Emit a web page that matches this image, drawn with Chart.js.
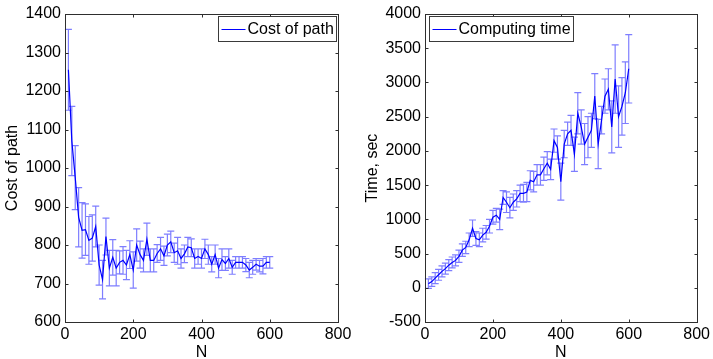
<!DOCTYPE html>
<html>
<head>
<meta charset="utf-8">
<script src="https://cdn.jsdelivr.net/npm/chart.js@4"></script>
<style>
  body { margin: 0; background: #fff; }
  #wrap { position: relative; width: 713px; height: 359px; }
  canvas { position: absolute; top: 0; }
</style>
</head>
<body>
<div id="wrap">
  <canvas id="costChart" width="360" height="359" style="left:0"></canvas>
  <canvas id="timeChart" width="353" height="359" style="left:360px"></canvas>
</div>
<script>
const nValues = [10, 20, 30, 40, 50, 60, 70, 80, 90, 100,
  110, 120, 130, 140, 150, 160, 170, 180, 190, 200,
  210, 220, 230, 240, 250, 260, 270, 280, 290, 300,
  310, 320, 330, 340, 350, 360, 370, 380, 390, 400,
  410, 420, 430, 440, 450, 460, 470, 480, 490, 500,
  510, 520, 530, 540, 550, 560, 570, 580, 590, 600];

const costMean = [1255, 1070, 975, 872, 838, 840, 812, 818, 848, 748,
  710, 822, 740, 768, 740, 755, 760, 748, 775, 735,
  800, 775, 760, 815, 760, 760, 778, 790, 772, 800,
  808, 780, 785, 765, 777, 795, 793, 765, 770, 765,
  790, 775, 750, 775, 740, 762, 752, 765, 742, 755,
  755, 755, 748, 735, 742, 750, 745, 745, 755, 755];
const costErr = [105, 90, 83, 77, 72, 67, 62, 60, 53, 52,
  50, 48, 46, 46, 46, 30, 36, 38, 36, 47,
  42, 35, 30, 42, 30, 30, 23, 30, 25, 28,
  28, 25, 35, 25, 23, 25, 23, 25, 20, 25,
  25, 25, 20, 25, 25, 28, 18, 25, 18, 15,
  15, 15, 17, 20, 18, 15, 15, 20, 15, 15];

const timeMean = [60, 90, 140, 190, 240, 280, 330, 370, 400, 460,
  550, 590, 700, 870, 720, 700, 770, 810, 900, 1030,
  1060, 1000, 1320, 1250, 1170, 1250, 1300, 1380, 1380, 1400,
  1570, 1550, 1650, 1650, 1740, 1820, 1730, 2150, 2050, 1550,
  2100, 2250, 2300, 1950, 2550, 2350, 2100, 2200, 2300, 2800,
  2100, 2450, 2800, 2900, 2350, 3050, 2500, 2650, 2850, 3200];
const timeErr = [70, 70, 80, 80, 80, 80, 80, 80, 80, 90,
  90, 90, 100, 120, 100, 100, 100, 100, 100, 100,
  100, 150, 100, 150, 150, 120, 120, 120, 130, 140,
  140, 150, 150, 150, 170, 170, 150, 170, 170, 270,
  200, 170, 220, 250, 300, 250, 300, 300, 250, 330,
  360, 200, 250, 300, 380, 500, 450, 420, 450, 500];

const FONT = "'Liberation Sans', Arial, Helvetica, sans-serif";
const FSIZE = 16;

// vertical error bars with small caps, drawn under the line
const errorBars = {
  id: "errorBars",
  beforeDatasetsDraw(chart) {
    const { ctx, scales: { x, y } } = chart;
    const ds = chart.data.datasets[0];
    ctx.save();
    ctx.strokeStyle = "rgba(40, 40, 255, 0.6)";
    ctx.lineWidth = 1.2;
    ctx.beginPath();
    ds.data.forEach((p, i) => {
      const px = x.getPixelForValue(p.x);
      const top = y.getPixelForValue(p.y + ds.errors[i]);
      const bot = y.getPixelForValue(p.y - ds.errors[i]);
      ctx.moveTo(px, top); ctx.lineTo(px, bot);
      ctx.moveTo(px - 3.5, top); ctx.lineTo(px + 3.5, top);
      ctx.moveTo(px - 3.5, bot); ctx.lineTo(px + 3.5, bot);
    });
    ctx.stroke();
    ctx.restore();
  }
};

// boxed axes with inward ticks plus the in-plot legend
const boxAxes = {
  id: "boxAxes",
  afterDraw(chart, args, opts) {
    const { ctx, chartArea: a, scales: { x, y } } = chart;
    ctx.save();
    ctx.strokeStyle = "#2e2e2e";
    ctx.lineWidth = 1;
    const L = Math.round(a.left) + 0.5, R = Math.round(a.right) + 0.5;
    const T = Math.round(a.top) + 0.5, B = Math.round(a.bottom) + 0.5;
    ctx.strokeRect(L, T, R - L, B - T);
    ctx.beginPath();
    x.ticks.forEach(t => {
      const px = Math.round(x.getPixelForValue(t.value)) + 0.5;
      ctx.moveTo(px, B); ctx.lineTo(px, B - 3);
      ctx.moveTo(px, T); ctx.lineTo(px, T + 3);
    });
    y.ticks.forEach(t => {
      const py = Math.round(y.getPixelForValue(t.value)) + 0.5;
      ctx.moveTo(L, py); ctx.lineTo(L + 3, py);
      ctx.moveTo(R, py); ctx.lineTo(R - 3, py);
    });
    ctx.stroke();

    // legend
    ctx.font = FSIZE + "px " + FONT;
    const label = chart.data.datasets[0].label;
    const tw = ctx.measureText(label).width;
    const w = Math.round(3 + 24 + 2 + tw + 3), h = 25;
    const bx = Math.round(opts.align === "right" ? R - 3 - w : L + 3) + 0.5;
    const by = T + 2;
    ctx.fillStyle = "#fff";
    ctx.fillRect(bx, by, w, h);
    ctx.strokeStyle = "#3a3a3a";
    ctx.strokeRect(bx, by, w, h);
    ctx.strokeStyle = "#0000ff";
    ctx.beginPath();
    ctx.moveTo(bx + 3, Math.round(by + h / 2) + 0.5);
    ctx.lineTo(bx + 27, Math.round(by + h / 2) + 0.5);
    ctx.stroke();
    ctx.fillStyle = "#000";
    ctx.textBaseline = "middle";
    ctx.fillText(label, bx + 29, by + h / 2 + 1);
    ctx.restore();
  }
};

function makeChart(id, label, mean, err, yMin, yMax, yStep, yTitle, legendAlign, padRight) {
  const points = nValues.map((n, i) => ({ x: n, y: mean[i] }));
  const font = { family: FONT, size: FSIZE };
  return new Chart(document.getElementById(id), {
    type: "line",
    data: {
      datasets: [{
        label: label,
        data: points,
        errors: err,
        borderColor: "#0000ff",
        borderWidth: 1.2,
        pointRadius: 0,
        tension: 0,
        fill: false,
      }],
    },
    options: {
      responsive: false,
      animation: false,
      layout: { padding: { left: 0, right: padRight, top: 14, bottom: 0 } },
      plugins: {
        legend: { display: false },
        tooltip: { enabled: false },
        boxAxes: { align: legendAlign },
      },
      scales: {
        x: {
          type: "linear",
          min: 0,
          max: 800,
          ticks: { stepSize: 200, padding: 3, color: "#000", font: font, callback: v => String(v), maxRotation: 0 },
          grid: { display: false, drawTicks: false },
          border: { display: false },
          title: { display: true, text: "N", color: "#000", font: font, padding: { top: 0, bottom: -3 } },
          afterFit(scale) { scale.height = 37; },
        },
        y: {
          min: yMin,
          max: yMax,
          ticks: { stepSize: yStep, padding: 4, color: "#000", font: font, callback: v => String(v) },
          grid: { display: false, drawTicks: false },
          border: { display: false },
          title: { display: true, text: yTitle, color: "#000", font: font, padding: { top: 3, bottom: 0 } },
          afterFit(scale) { scale.width = 65; },
        },
      },
    },
    plugins: [errorBars, boxAxes],
  });
}

makeChart("costChart", "Cost of path", costMean, costErr, 600, 1400, 100, "Cost of path", "right", 22);
makeChart("timeChart", "Computing time", timeMean, timeErr, -500, 4000, 500, "Time, sec", "left", 15);
</script>
</body>
</html>
